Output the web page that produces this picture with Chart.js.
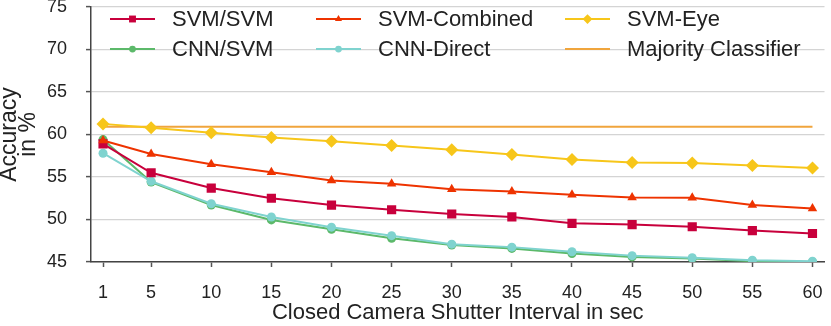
<!DOCTYPE html>
<html>
<head>
<meta charset="utf-8">
<title>Accuracy vs shutter interval</title>
<script src="https://cdn.jsdelivr.net/npm/chart.js@4/dist/chart.umd.min.js"></script>
<style>
    html, body { margin: 0; padding: 0; background: #fff; }
    #wrap { width: 831px; height: 326px; }
</style>
</head>
<body>
<div id="wrap"><canvas id="accuracyChart" width="831" height="326"></canvas></div>
<script>
// Intervalli dell'otturatore (asse x, in secondi)
const shutterIntervals = [1, 5, 10, 15, 20, 25, 30, 35, 40, 45, 50, 55, 60];
const yTicks = [45, 50, 55, 60, 65, 70, 75];

// Accuratezza in % per ogni metodo
const svmSvm      = [58.9, 55.5, 53.7, 52.5, 51.7, 51.15, 50.65, 50.3, 49.55, 49.4, 49.15, 48.7, 48.35];
const svmCombined = [59.3, 57.7, 56.5, 55.55, 54.6, 54.2, 53.55, 53.3, 52.9, 52.6, 52.55, 51.7, 51.3];
const svmEye      = [61.25, 60.8, 60.2, 59.65, 59.2, 58.7, 58.2, 57.65, 57.05, 56.7, 56.65, 56.35, 56.05];
const cnnSvm      = [59.4, 54.4, 51.7, 49.95, 48.85, 47.8, 47.0, 46.6, 46.0, 45.6, 45.4, 45.1, 45.0];
const cnnDirect   = [57.8, 54.5, 51.85, 50.3, 49.1, 48.1, 47.1, 46.75, 46.2, 45.75, 45.5, 45.2, 45.1];
const majorityValue = 60.9;

const textColor = '#222';
const fontFamily = "'Liberation Sans', Arial, Helvetica, sans-serif";

function toPoints(values) {
    return values.map(function(v, i) {
        return { x: shutterIntervals[i], y: v };
    });
}

function series(label, values, color, style, radius, order) {
    return {
        label: label,
        data: toPoints(values),
        borderColor: color,
        backgroundColor: color,
        borderWidth: 2,
        pointStyle: style,
        pointRadius: radius,
        pointBorderWidth: 0,
        legendRadius: radius * 0.75,
        order: order
    };
}

// order basso = disegnato sopra
const datasets = [
    series('SVM/SVM', svmSvm, '#c8003c', 'rect', 6.5, 3),
    series('SVM-Combined', svmCombined, '#ee3300', 'triangle', 5.5, 2),
    series('SVM-Eye', svmEye, '#f7c61a', 'rectRot', 6.5, 1),
    series('CNN/SVM', cnnSvm, '#5cb96a', 'circle', 4.5, 5),
    series('CNN-Direct', cnnDirect, '#7fd3cf', 'circle', 4.5, 4),
    {
        label: 'Majority Classifier',
        data: [
            { x: shutterIntervals[0], y: majorityValue },
            { x: shutterIntervals[shutterIntervals.length - 1], y: majorityValue }
        ],
        borderColor: '#f0a53c',
        backgroundColor: '#f0a53c',
        borderWidth: 2,
        pointRadius: 0,
        pointStyle: false,
        order: 6
    }
];

// Legenda disegnata a mano: 3 colonne, 2 righe, dentro l'area del grafico
const legendPlugin = {
    id: 'gridLegend',
    afterDraw: function(chart) {
        const ctx = chart.ctx;
        const cols = [110, 316, 565];
        const rows = [19, 49];
        const lineLen = 45;
        ctx.save();
        ctx.font = '22px ' + fontFamily;
        ctx.textBaseline = 'middle';
        ctx.textAlign = 'left';
        chart.data.datasets.forEach(function(ds, i) {
            const x = cols[i % 3];
            const y = rows[Math.floor(i / 3)];
            ctx.strokeStyle = ds.borderColor;
            ctx.lineWidth = 2;
            ctx.beginPath();
            ctx.moveTo(x, y);
            ctx.lineTo(x + lineLen, y);
            ctx.stroke();
            if (ds.pointStyle) {
                ctx.fillStyle = ds.backgroundColor;
                Chart.helpers.drawPoint(ctx, {
                    pointStyle: ds.pointStyle,
                    radius: ds.legendRadius,
                    rotation: 0,
                    borderWidth: 0
                }, x + lineLen / 2, y);
            }
            ctx.fillStyle = textColor;
            ctx.fillText(ds.label, x + lineLen + 17, y + 1);
        });
        ctx.restore();
    }
};

new Chart(document.getElementById('accuracyChart').getContext('2d'), {
    type: 'line',
    data: { datasets: datasets },
    options: {
        responsive: false,
        animation: false,
        devicePixelRatio: 1,
        events: [],
        layout: { padding: { top: 7, right: 2, left: 0, bottom: 0 } },
        plugins: {
            legend: { display: false },
            tooltip: { enabled: false }
        },
        scales: {
            x: {
                type: 'linear',
                min: 0,
                max: 61,
                afterBuildTicks: function(scale) {
                    scale.ticks = shutterIntervals.map(function(v) { return { value: v }; });
                },
                afterFit: function(scale) {
                    scale.height = 64;
                    scale.paddingLeft = 0;
                    scale.paddingRight = 0;
                },
                grid: {
                    drawOnChartArea: false,
                    drawTicks: true,
                    tickLength: 5,
                    tickColor: '#555',
                    tickWidth: 1.5
                },
                border: { color: '#444', width: 1.5 },
                ticks: {
                    autoSkip: false,
                    maxRotation: 0,
                    padding: 15,
                    color: textColor,
                    font: { family: fontFamily, size: 18 }
                },
                title: {
                    display: true,
                    text: 'Closed Camera Shutter Interval in sec',
                    color: textColor,
                    font: { family: fontFamily, size: 22 },
                    padding: { top: 0, bottom: 0 }
                }
            },
            y: {
                min: 45,
                max: 75,
                afterBuildTicks: function(scale) {
                    scale.ticks = yTicks.map(function(v) { return { value: v }; });
                },
                afterFit: function(scale) {
                    scale.width = 91;
                    scale.paddingTop = 0;
                    scale.paddingBottom = 0;
                },
                grid: {
                    color: '#d4d4d4',
                    lineWidth: 1.2,
                    drawTicks: true,
                    tickLength: 5,
                    tickColor: '#555',
                    tickWidth: 1.5
                },
                border: { color: '#444', width: 1.5 },
                ticks: {
                    padding: 19,
                    color: textColor,
                    font: { family: fontFamily, size: 18 }
                },
                title: {
                    display: true,
                    text: ['Accuracy', 'in %'],
                    color: textColor,
                    font: { family: fontFamily, size: 23, lineHeight: 0.82 },
                    padding: 0
                }
            }
        }
    },
    plugins: [legendPlugin]
});
</script>
</body>
</html>
